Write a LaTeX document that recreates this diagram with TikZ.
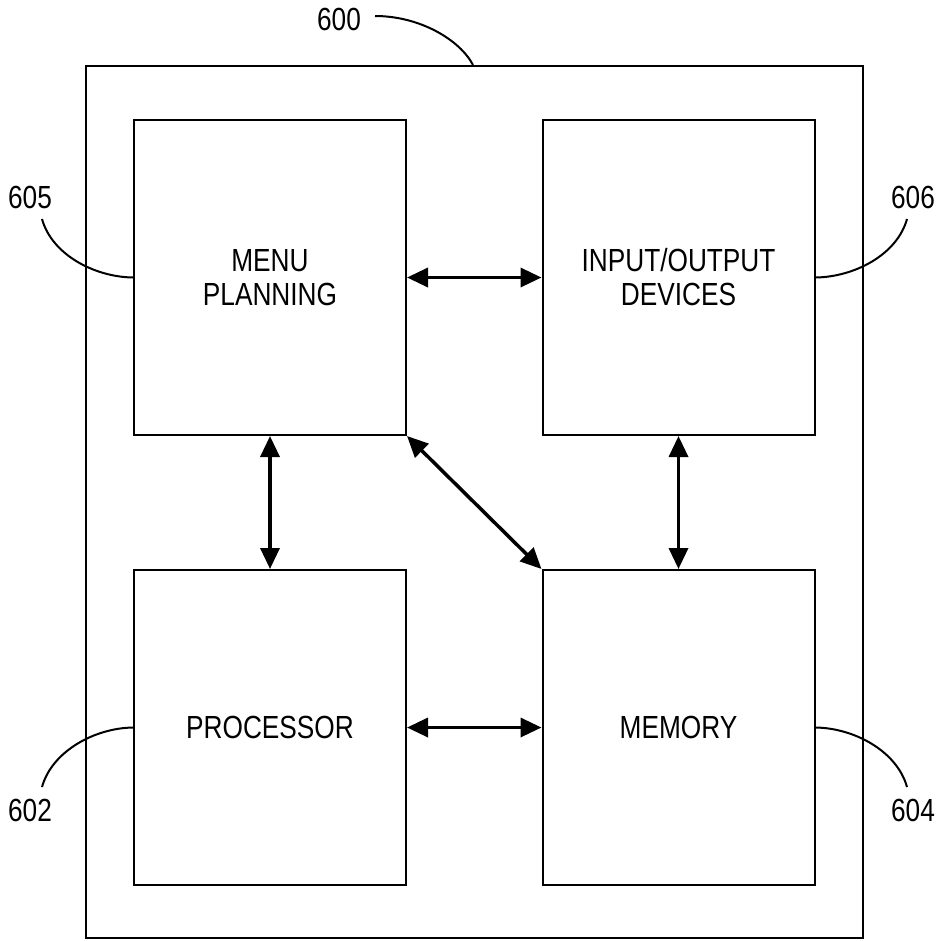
\documentclass[tikz,border=0pt]{standalone}
\usepackage{fontspec}
\setmainfont{Liberation Sans}
\newfontfamily\narrowf[FakeStretch=0.82]{Liberation Sans}
\usetikzlibrary{arrows.meta}
\begin{document}
\begin{tikzpicture}[x=1pt,y=-1pt,
  blk/.style={draw,line width=2pt,minimum width=272pt,minimum height=315pt,inner sep=0pt,align=center,font=\narrowf\fontsize{32}{34}\selectfont},
  lbl/.style={font=\narrowf\fontsize{32}{34}\selectfont,inner sep=0pt},
  lead/.style={line width=2pt},
  biarrow/.style={line width=3.5pt,{Triangle[length=21pt,width=19pt]}-{Triangle[length=21pt,width=19pt]}}]
\useasboundingbox (0,0) rectangle (941,940);
\node[draw,line width=2pt,minimum width=777pt,minimum height=872pt,inner sep=0pt] (outer) at (474.5,502) {};
\node[blk] (menu) at (270,277.5) {MENU\\PLANNING};
\node[blk] (io) at (678.5,277.5) {INPUT/OUTPUT\\DEVICES};
\node[blk] (proc) at (270,727.5) {PROCESSOR};
\node[blk] (mem) at (678.5,727.5) {MEMORY};
% labels
\node[lbl] (l600) at (339,19) {600};
\node[lbl] (l605) at (30,197) {605};
\node[lbl] (l606) at (913,197) {606};
\node[lbl] (l602) at (30,810) {602};
\node[lbl] (l604) at (913,810) {604};
\coordinate (c600) at (375,16);
\coordinate (c605) at (42,219);
\coordinate (c606) at (907,219);
\coordinate (c602) at (42,787);
\coordinate (c604) at (907,787);
\draw[lead] (c600) .. controls (420,16) and (460,40) .. (outer.north -| 473,0);
\draw[lead] (c605) .. controls (52,255) and (95,277) .. (menu.west);
\draw[lead] (c606) .. controls (897,255) and (854,277) .. (io.east);
\draw[lead] (c602) .. controls (52,751) and (95,728) .. (proc.west);
\draw[lead] (c604) .. controls (897,751) and (854,728) .. (mem.east);
% arrows
\draw[biarrow] (menu.east) -- (io.west);
\draw[biarrow] (proc.east) -- (mem.west);
\draw[biarrow] (menu.south) -- (proc.north);
\draw[biarrow] (io.south) -- (mem.north);
\draw[biarrow] (menu.south east) -- (mem.north west);
\end{tikzpicture}
\end{document}
